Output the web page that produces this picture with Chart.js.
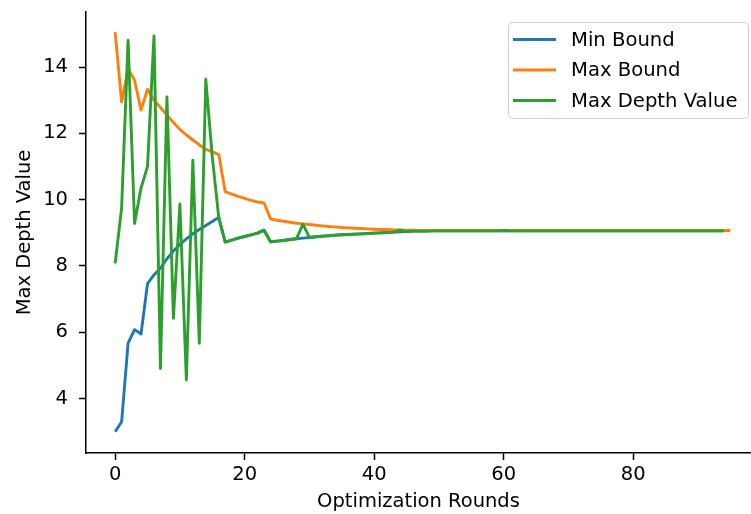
<!DOCTYPE html>
<html><head><meta charset="utf-8">
<script src="https://cdn.jsdelivr.net/npm/chart.js@4.4.0/dist/chart.umd.min.js"></script>
<style>html,body{margin:0;padding:0;background:#fff;}#wrap{width:751px;height:514px;position:relative;}</style>
</head><body><div id="wrap"><canvas id="c" width="751" height="514"></canvas></div>
<script>
const seriesNames = ['Min Bound', 'Max Bound', 'Max Depth Value'];
const xTickValues = [0, 20, 40, 60, 80];
const yTickValues = [4, 6, 8, 10, 12, 14];
const xAxisTitle = 'Optimization Rounds';
const yAxisTitle = 'Max Depth Value';

const minBound = [
  3.0, 3.3, 5.67, 6.08, 5.95, 7.47, 7.73, 7.93, 8.22, 8.45,
  8.65, 8.82, 8.97, 9.1, 9.22, 9.34, 9.46, 8.72, 8.78, 8.84,
  8.89, 8.94, 8.99, 9.08, 8.73, 8.75, 8.77, 8.80, 8.82, 8.84,
  8.86, 8.88, 8.90, 8.91, 8.93, 8.94, 8.95, 8.96, 8.97, 8.98,
  8.99, 9.0, 9.01, 9.02, 9.03, 9.04, 9.05, 9.05, 9.05, 9.06,
  9.06, 9.06, 9.06, 9.06, 9.06, 9.06, 9.06, 9.06, 9.06, 9.06,
  9.06, 9.06, 9.06, 9.06, 9.06, 9.06, 9.06, 9.06, 9.06, 9.06,
  9.06, 9.06, 9.06, 9.06, 9.06, 9.06, 9.06, 9.06, 9.06, 9.06,
  9.06, 9.06, 9.06, 9.06, 9.06, 9.06, 9.06, 9.06, 9.06, 9.06,
  9.06, 9.06, 9.06, 9.06, 9.06
];
const maxBound = [
  15.05, 12.95, 13.95, 13.6, 12.7, 13.33, 13.0, 12.78, 12.55, 12.33,
  12.12, 11.95, 11.8, 11.65, 11.52, 11.45, 11.36, 10.24, 10.17, 10.1,
  10.04, 9.98, 9.93, 9.9, 9.42, 9.38, 9.35, 9.32, 9.29, 9.27,
  9.25, 9.23, 9.21, 9.19, 9.18, 9.16, 9.15, 9.14, 9.13, 9.12,
  9.11, 9.10, 9.10, 9.09, 9.09, 9.08, 9.08, 9.07, 9.07, 9.07,
  9.07, 9.07, 9.07, 9.07, 9.07, 9.07, 9.07, 9.07, 9.07, 9.07,
  9.07, 9.07, 9.07, 9.07, 9.07, 9.07, 9.07, 9.07, 9.07, 9.07,
  9.07, 9.07, 9.07, 9.07, 9.07, 9.07, 9.07, 9.07, 9.07, 9.07,
  9.07, 9.07, 9.07, 9.07, 9.07, 9.07, 9.07, 9.07, 9.07, 9.07,
  9.07, 9.07, 9.07, 9.07, 9.07, 9.07
];
const maxDepthValue = [
  8.08, 9.75, 14.81, 9.28, 10.35, 11.0, 14.94, 4.91, 13.1, 6.42,
  9.87, 4.56, 11.19, 5.67, 13.63, 11.3, 9.46, 8.72, 8.78, 8.84,
  8.89, 8.94, 8.99, 9.08, 8.73, 8.75, 8.77, 8.80, 8.82, 9.26,
  8.86, 8.88, 8.90, 8.91, 8.93, 8.94, 8.95, 8.96, 8.97, 8.98,
  8.99, 9.0, 9.01, 9.02, 9.08, 9.04, 9.05, 9.05, 9.05, 9.06,
  9.06, 9.06, 9.06, 9.06, 9.06, 9.06, 9.06, 9.06, 9.06, 9.06,
  9.07, 9.06, 9.06, 9.06, 9.06, 9.06, 9.06, 9.06, 9.06, 9.06,
  9.06, 9.06, 9.06, 9.06, 9.06, 9.06, 9.06, 9.06, 9.06, 9.06,
  9.06, 9.06, 9.06, 9.06, 9.06, 9.06, 9.06, 9.06, 9.06, 9.06,
  9.06, 9.06, 9.06, 9.06, 9.06
];

const FONT = '"DejaVu Sans", sans-serif';
const toPoints = arr => arr.map((v, i) => ({x: i, y: v}));

const boxLegend = {
  id: 'boxLegend',
  afterDraw(chart) {
    const ctx = chart.ctx;
    ctx.save();
    const bx = 508.5, by = 22.5, bw = 240, bh = 96;
    ctx.fillStyle = 'rgba(255,255,255,0.8)';
    ctx.strokeStyle = '#d0d0d0';
    ctx.lineWidth = 1;
    ctx.beginPath();
    ctx.roundRect(bx, by, bw, bh, 4);
    ctx.fill();
    ctx.stroke();
    const rows = [39.5, 70, 100.5];
    chart.data.datasets.forEach((ds, i) => {
      ctx.strokeStyle = ds.borderColor;
      ctx.lineWidth = 3;
      ctx.beginPath();
      ctx.moveTo(513, rows[i]);
      ctx.lineTo(556, rows[i]);
      ctx.stroke();
      ctx.fillStyle = '#000';
      ctx.font = '19.6px ' + FONT;
      ctx.textBaseline = 'middle';
      ctx.textAlign = 'left';
      ctx.fillText(ds.label, 571, rows[i] + 1);
    });
    ctx.restore();
  }
};

new Chart(document.getElementById('c'), {
  type: 'line',
  data: {
    datasets: [
      {label: seriesNames[0], data: toPoints(minBound), borderColor: '#1f77b4', order: 3},
      {label: seriesNames[1], data: toPoints(maxBound), borderColor: '#ff7f0e', order: 2},
      {label: seriesNames[2], data: toPoints(maxDepthValue), borderColor: '#2ca02c', order: 1}
    ]
  },
  options: {
    responsive: false,
    animation: false,
    devicePixelRatio: 1,
    layout: {padding: {top: 12, right: 0, left: 0, bottom: 0}},
    elements: {
      line: {borderWidth: 2.9, tension: 0, borderCapStyle: 'butt', borderJoinStyle: 'round', fill: false},
      point: {radius: 0, hoverRadius: 0}
    },
    plugins: {legend: {display: false}, tooltip: {enabled: false}},
    scales: {
      x: {
        type: 'linear',
        min: -4.5, max: 98.2,
        afterBuildTicks: s => { s.ticks = xTickValues.map(v => ({value: v})); },
        afterFit: s => { s.height = 61; s.paddingLeft = 0; s.paddingRight = 0; },
        grid: {drawOnChartArea: false, drawTicks: true, tickLength: 7, tickWidth: 1.5, tickColor: '#000'},
        border: {display: true, color: '#000', width: 1.5},
        ticks: {font: {family: FONT, size: 19.5}, color: '#000', padding: 3, maxRotation: 0, autoSkip: false},
        title: {display: true, text: xAxisTitle, font: {family: FONT, size: 19.5}, color: '#000', padding: {top: 0, bottom: 0}}
      },
      y: {
        type: 'linear',
        min: 2.36, max: 15.66,
        afterBuildTicks: s => { s.ticks = yTickValues.map(v => ({value: v})); },
        afterFit: s => { s.width = 86; s.paddingTop = 0; s.paddingBottom = 0; },
        grid: {drawOnChartArea: false, drawTicks: true, tickLength: 7, tickWidth: 1.5, tickColor: '#000'},
        border: {display: true, color: '#000', width: 1.5},
        ticks: {font: {family: FONT, size: 19.5}, color: '#000', padding: 11, autoSkip: false},
        title: {display: true, text: yAxisTitle, font: {family: FONT, size: 19.5}, color: '#000', padding: {top: 13, bottom: 0}}
      }
    }
  },
  plugins: [boxLegend]
});
</script>
</body></html>
